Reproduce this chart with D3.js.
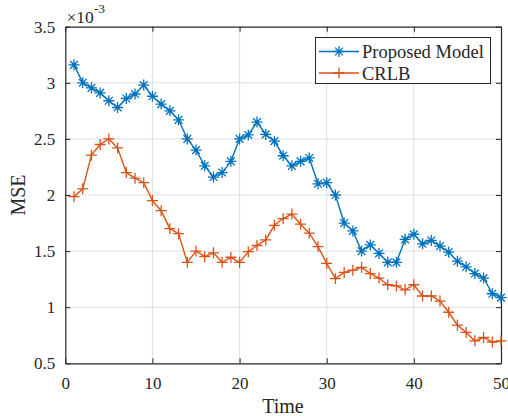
<!DOCTYPE html>
<html>
<head>
<meta charset="utf-8">
<script src="https://cdn.jsdelivr.net/npm/d3@7"></script>
<style>
  body { margin: 0; background: #fff; }
  svg { display: block; }
  svg text { font-family: "Liberation Serif", "Times New Roman", serif !important; fill: #262626; }
</style>
</head>
<body>
<svg id="chart" width="508" height="416" font-family="Liberation Serif"></svg>
<script>
(function() {

	var W = 508, H = 416,
		left = 65.3, right = 501, top = 26.7, bottom = 363.3;

	// tidspunkt og verdier (x 10^-3)
	var tid = d3.range(1, 51);
	var proposed = [3.16, 3.00, 2.955, 2.91, 2.84, 2.78, 2.86, 2.90, 2.98, 2.88,
		2.81, 2.75, 2.67, 2.50, 2.40, 2.26, 2.16, 2.20, 2.30, 2.50,
		2.535, 2.65, 2.54, 2.48, 2.35, 2.26, 2.30, 2.33, 2.10, 2.11,
		2.00, 1.75, 1.68, 1.50, 1.555, 1.48, 1.40, 1.40, 1.605, 1.65,
		1.565, 1.595, 1.545, 1.49, 1.41, 1.36, 1.30, 1.26, 1.12, 1.085];
	var crlb = [1.985, 2.055, 2.355, 2.45, 2.50, 2.42, 2.20, 2.15, 2.11, 1.95,
		1.86, 1.70, 1.655, 1.40, 1.50, 1.45, 1.485, 1.40, 1.445, 1.40,
		1.495, 1.55, 1.60, 1.73, 1.79, 1.83, 1.74, 1.66, 1.54, 1.39,
		1.255, 1.31, 1.33, 1.355, 1.30, 1.26, 1.20, 1.19, 1.155, 1.20,
		1.10, 1.10, 1.055, 0.955, 0.84, 0.775, 0.70, 0.73, 0.69, 0.70];
	var xTicks = [0, 10, 20, 30, 40, 50];
	var yTicks = [0.5, 1, 1.5, 2, 2.5, 3, 3.5];
	var serier = [
		{ navn: 'Proposed Model', verdier: proposed, farge: '#0072BD', markor: 'star' },
		{ navn: 'CRLB', verdier: crlb, farge: '#D95319', markor: 'plus' }
	];

	var x = d3.scaleLinear().domain([0, 50]).range([left, right]);
	var y = d3.scaleLinear().domain([0.5, 3.5]).range([bottom, top]);

	var svg = d3.select('#chart');

	// rutenett
	var grid = svg.append('g').attr('stroke', '#dfdfdf').attr('stroke-width', 1);
	grid.selectAll('.gx').data(xTicks.slice(1, -1)).enter().append('line')
		.attr('x1', x).attr('x2', x).attr('y1', top).attr('y2', bottom);
	grid.selectAll('.gy').data(yTicks.slice(1, -1)).enter().append('line')
		.attr('y1', y).attr('y2', y).attr('x1', left).attr('x2', right);

	// akser
	var xAxis = d3.axisBottom(x).tickValues(xTicks).tickSizeInner(-5).tickSizeOuter(0).tickPadding(14);
	var yAxis = d3.axisLeft(y).tickValues(yTicks).tickFormat(d3.format('')).tickSizeInner(-5).tickSizeOuter(0).tickPadding(10);
	var xTop = d3.axisTop(x).tickValues(xTicks).tickSizeInner(-5).tickSizeOuter(0).tickFormat('');
	var yRight = d3.axisRight(y).tickValues(yTicks).tickSizeInner(-5).tickSizeOuter(0).tickFormat('');

	function stil(g) {
		g.attr('font-family', 'Liberation Serif').attr('font-size', 17);
		g.select('.domain').attr('stroke', '#262626').attr('stroke-width', 1.2);
		g.selectAll('.tick line').attr('stroke', '#262626');
		g.selectAll('.tick text').attr('fill', '#262626');
	}
	svg.append('g').attr('transform', 'translate(0,' + bottom + ')').call(xAxis).call(stil);
	svg.append('g').attr('transform', 'translate(' + left + ',0)').call(yAxis).call(stil);
	svg.append('g').attr('transform', 'translate(0,' + top + ')').call(xTop).call(stil);
	svg.append('g').attr('transform', 'translate(' + right + ',0)').call(yRight).call(stil);

	// markører
	function markor(sel, type, s) {
		var p = type === 'star'
			? 'M' + (-s) + ',0H' + s + 'M0,' + (-s) + 'V' + s +
			  'M' + (-s * 0.7) + ',' + (-s * 0.7) + 'L' + (s * 0.7) + ',' + (s * 0.7) +
			  'M' + (-s * 0.7) + ',' + (s * 0.7) + 'L' + (s * 0.7) + ',' + (-s * 0.7)
			: 'M' + (-s) + ',0H' + s + 'M0,' + (-s) + 'V' + s;
		sel.append('path').attr('d', p);
	}

	var linje = d3.line().x(function(d, i) { return x(tid[i]); }).y(function(d) { return y(d); });

	serier.forEach(function(s) {
		svg.append('path').datum(s.verdier)
			.attr('fill', 'none').attr('stroke', s.farge).attr('stroke-width', 1.4)
			.attr('d', linje);
		var m = svg.append('g').attr('stroke', s.farge).attr('stroke-width', 1.3).attr('fill', 'none');
		m.selectAll('g').data(s.verdier).enter().append('g')
			.attr('transform', function(d, i) { return 'translate(' + x(tid[i]) + ',' + y(d) + ')'; })
			.each(function() { markor(d3.select(this), s.markor, 5.5); });
	});

	// legende
	var lg = svg.append('g');
	lg.append('rect').attr('x', 315.5).attr('y', 37.5).attr('width', 175).attr('height', 46)
		.attr('fill', '#fff').attr('stroke', '#262626').attr('stroke-width', 1);
	serier.forEach(function(s, i) {
		var yy = 51.5 + i * 21.5;
		lg.append('line').attr('x1', 319).attr('x2', 359).attr('y1', yy).attr('y2', yy)
			.attr('stroke', s.farge).attr('stroke-width', 1.4);
		var m = lg.append('g').attr('transform', 'translate(339,' + yy + ')')
			.attr('stroke', s.farge).attr('stroke-width', 1.3).attr('fill', 'none');
		markor(m, s.markor, 5.5);
		lg.append('text').attr('x', 362).attr('y', yy + 6.5).attr('font-size', 18.5).text(s.navn);
	});

	// aksetitler
	svg.append('text').attr('x', 283).attr('y', 413).attr('text-anchor', 'middle')
		.attr('font-size', 20).text('Time');
	svg.append('text').attr('transform', 'translate(25,' + ((top + bottom) / 2) + ') rotate(-90)')
		.attr('text-anchor', 'middle').attr('font-size', 20).text('MSE');

	var ex = svg.append('text').attr('x', 66.5).attr('y', 22.7).attr('font-size', 17.5);
	ex.append('tspan').text('\u00d710');
	ex.append('tspan').attr('font-size', 13.5).attr('dy', -9.5).text('-3');

})();
</script>
</body>
</html>
